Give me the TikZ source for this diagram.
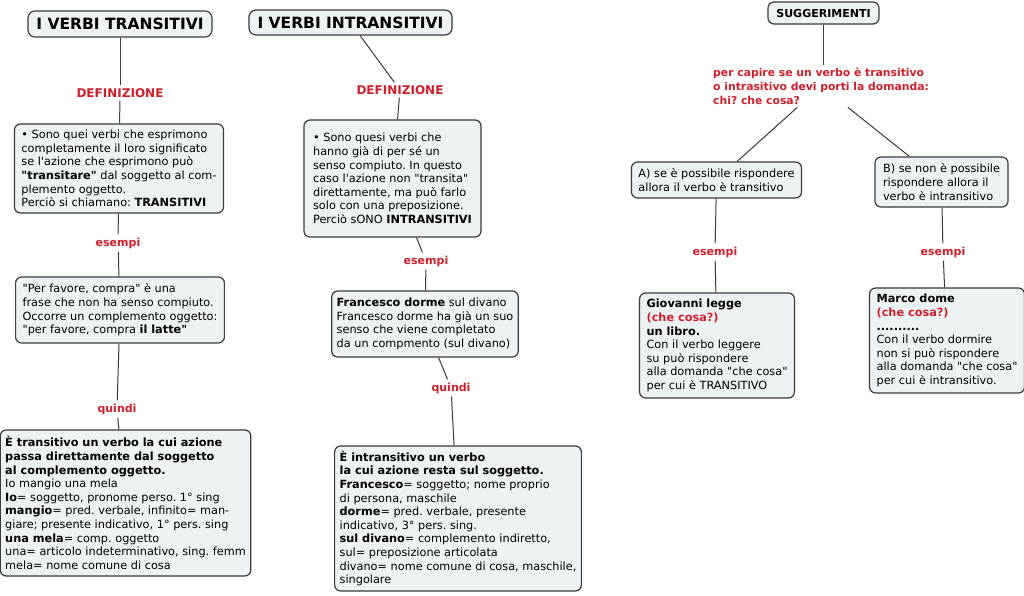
\documentclass[tikz,border=0pt]{standalone}
\usepackage{fontspec}
\setmainfont{DejaVu Sans}[Ligatures=TeXOff]
\definecolor{redlbl}{HTML}{D01F2B}
\definecolor{boxfill}{HTML}{EDF2F5}
\definecolor{boxdraw}{HTML}{3A3A3A}
\definecolor{linecol}{HTML}{3A3A3A}
\newcommand\fBody{\frenchspacing\fontsize{11.3}{13.6}\selectfont}
\newcommand\fLbl{\bfseries\fontsize{11}{13}\selectfont}
\newcommand\fDef{\bfseries\fontsize{12}{14}\selectfont}
\newcommand\fTitle{\bfseries\fontsize{15.5}{18}\selectfont}
\newcommand\fSug{\bfseries\fontsize{11}{13}\selectfont}
\newcommand\fRed{\frenchspacing\bfseries\fontsize{10.8}{13.8}\selectfont}
\begin{document}
\begin{tikzpicture}[x=1pt,y=-1pt,
  box/.style={draw=boxdraw, fill=boxfill, line width=1.2pt, rounded corners=6pt, align=left, inner xsep=7pt, inner ysep=3pt, font=\fBody},
  widebox/.style={box, inner xsep=5pt},
  titlebox/.style={box, font=\fTitle, rounded corners=7pt},
  lbl/.style={text=redlbl, font=\fLbl, inner xsep=2pt, inner ysep=3pt},
  deflbl/.style={lbl, font=\fDef},
  conn/.style={draw=linecol, line width=1pt}]
\useasboundingbox[fill=white] (0,0) rectangle (1024,596);

% left column
\node[titlebox, minimum width=184, minimum height=26] (t1) at (120,24) {I VERBI TRANSITIVI};
\node[deflbl] (df1) at (120,93) {DEFINIZIONE};
\node[box, minimum width=204, minimum height=89] (d1) at (119,168.5) {%
• Sono quei verbi che esprimono\\
completamente il loro significato\\
se l'azione che esprimono può\\
\textbf{"transitare"} dal soggetto al com-\\
plemento oggetto.\\
Perciò si chiamano: \textbf{TRANSITIVI}};
\node[lbl] (e1) at (118,243) {esempi};
\node[box, minimum width=204, minimum height=66] (ex1) at (120,310) {%
"Per favore, compra" è una\\
frase che non ha senso compiuto.\\
Occorre un complemento oggetto:\\
"per favore, compra \textbf{il latte"}};
\node[lbl] (q1) at (117,409) {quindi};
\node[widebox, minimum width=247, minimum height=146] (c1) at (125.5,503) {%
\textbf{È transitivo un verbo la cui azione}\\
\textbf{passa direttamente dal soggetto}\\
\textbf{al complemento oggetto.}\\
Io mangio una mela\\
\textbf{Io}= soggetto, pronome perso. 1° sing\\
\textbf{mangio}= pred. verbale, infinito= man-\\
giare; presente indicativo, 1° pers. sing\\
\textbf{una mela}= comp. oggetto\\
una= articolo indeterminativo, sing. femm\\
mela= nome comune di cosa};

% middle column
\node[titlebox, minimum width=203, minimum height=25] (t2) at (350.5,22.5) {I VERBI INTRANSITIVI};
\node[deflbl] (df2) at (400,90) {DEFINIZIONE};
\node[box, minimum width=177, minimum height=117] (d2) at (392.5,178.5) {%
• Sono quesi verbi che\\
hanno già di per sé un\\
senso compiuto. In questo\\
caso l'azione non "transita"\\
direttamente, ma può farlo\\
solo con una preposizione.\\
Perciò sONO \textbf{INTRANSITIVI}};
\node[lbl] (e2) at (426,261) {esempi};
\node[widebox, minimum width=186, minimum height=66] (ex2) at (425,324) {%
\textbf{Francesco dorme} sul divano\\
Francesco dorme ha già un suo\\
senso che viene completato\\
da un compmento (sul divano)};
\node[lbl] (q2) at (451,388) {quindi};
\node[widebox, minimum width=244, minimum height=145] (c2) at (458,518.5) {%
\textbf{È intransitivo un verbo}\\
\textbf{la cui azione resta sul soggetto.}\\
\textbf{Francesco}= soggetto; nome proprio\\
di persona, maschile\\
\textbf{dorme}= pred. verbale, presente\\
indicativo, 3° pers. sing.\\
\textbf{sul divano}= complemento indiretto,\\
sul= preposizione articolata\\
divano= nome comune di cosa, maschile,\\
singolare};

% right column
\node[box, font=\fSug, minimum width=111, minimum height=22] (sg) at (823.5,13) {SUGGERIMENTI};
\node[lbl, font=\fRed, anchor=west, align=left, inner xsep=0pt] (rq) at (713,86) {%
per capire se un verbo è transitivo\\
o intrasitivo devi porti la domanda:\\
chi? che cosa?};
\node[box, minimum width=167, minimum height=36] (ba) at (716.5,180) {%
A) se è possibile rispondere\\
allora il verbo è transitivo};
\node[box, minimum width=133, minimum height=50] (bb) at (941.5,182) {%
B) se non è possibile\\
rispondere allora il\\
verbo è intransitivo};
\node[lbl] (eA) at (715,252) {esempi};
\node[lbl] (eB) at (943,252) {esempi};
\node[box, minimum width=150, minimum height=105] (ga) at (717,345.5) {%
\textbf{Giovanni legge}\\
\textcolor{redlbl}{\textbf{(che cosa?)}}\\
\textbf{un libro.}\\
Con il verbo leggere\\
su può rispondere\\
alla domanda "che cosa"\\
per cui è TRANSITIVO};
\node[box, minimum width=150, minimum height=105] (mb) at (947,340.5) {%
\textbf{Marco dome}\\
\textcolor{redlbl}{\textbf{(che cosa?)}}\\
\textbf{..........}\\
Con il verbo dormire\\
non si può rispondere\\
alla domanda "che cosa"\\
per cui è intransitivo.};

% connectors
\draw[conn] (t1) -- (df1);
\draw[conn] (df1) -- (d1);
\draw[conn] (d1) -- (e1);
\draw[conn] (e1) -- (ex1);
\draw[conn] (ex1) -- (q1);
\draw[conn] (q1) -- (c1);
\draw[conn] (t2) -- (df2);
\draw[conn] (df2) -- (d2);
\draw[conn] (d2) -- (e2);
\draw[conn] (e2) -- (ex2);
\draw[conn] (ex2) -- (q2);
\draw[conn] (q2) -- (c2);
\draw[conn] (sg) -- (sg |- rq.north);
\draw[conn] (rq) -- (ba);
\draw[conn] (rq) -- (bb);
\draw[conn] (ba) -- (eA);
\draw[conn] (eA) -- (ga);
\draw[conn] (bb) -- (eB);
\draw[conn] (eB) -- (mb);
\end{tikzpicture}
\end{document}
